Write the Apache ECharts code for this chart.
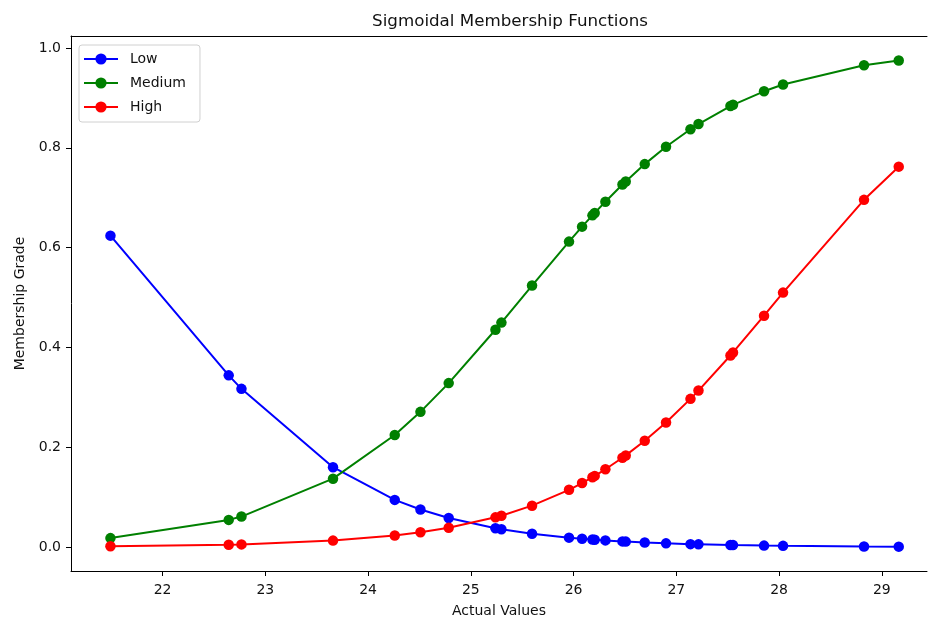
<!DOCTYPE html>
<html>
<head>
<meta charset="utf-8">
<script src="https://cdn.jsdelivr.net/npm/echarts@6/dist/echarts.min.js"></script>
<style>html,body{margin:0;padding:0;background:#fff}#c{width:928px;height:623px}</style>
</head>
<body>
<div id="c"></div>
<script>
const xValues = [21.493, 22.644, 22.768, 23.659, 24.260, 24.510, 24.785, 25.240, 25.298, 25.596, 25.956, 26.083, 26.184, 26.206, 26.310, 26.476, 26.508, 26.693, 26.900, 27.138, 27.216, 27.527, 27.552, 27.854, 28.039, 28.827, 29.165];
const lowValues = [0.624, 0.344, 0.317, 0.160, 0.0945, 0.0752, 0.0581, 0.0377, 0.0356, 0.0267, 0.0188, 0.0166, 0.0150, 0.0147, 0.0133, 0.0113, 0.0109, 0.0091, 0.0074, 0.0058, 0.0054, 0.0040, 0.0039, 0.0029, 0.0024, 0.0011, 0.0008];
const mediumValues = [0.0179, 0.0544, 0.0611, 0.137, 0.2244, 0.2709, 0.3285, 0.4354, 0.4497, 0.524, 0.612, 0.642, 0.6646, 0.6695, 0.692, 0.7263, 0.7326, 0.7673, 0.8022, 0.8372, 0.8476, 0.8836, 0.8861, 0.9132, 0.9269, 0.9653, 0.975];
const highValues = [0.0015, 0.0047, 0.0053, 0.0129, 0.0232, 0.0296, 0.0386, 0.0595, 0.0628, 0.0829, 0.1147, 0.1282, 0.1399, 0.1426, 0.1558, 0.1789, 0.1836, 0.213, 0.2497, 0.2969, 0.3135, 0.3839, 0.3899, 0.4636, 0.5098, 0.6957, 0.7622];
const xTicks = [22, 23, 24, 25, 26, 27, 28, 29];
const yTicks = [0, 0.2, 0.4, 0.6, 0.8, 1.0];
const seriesNames = ['Low', 'Medium', 'High'];
const seriesColors = ['#0000ff', '#008000', '#ff0000'];
const seriesValues = [lowValues, mediumValues, highValues];

const FONT = 'DejaVu Sans';
const X_MIN = 21.109, X_MAX = 29.44;
const chart = echarts.init(document.getElementById('c'), null, {renderer: 'canvas'});
const pairs = v => xValues.map((x, i) => [x, v[i]]);

chart.setOption({
  animation: false,
  backgroundColor: '#fff',
  textStyle: {fontFamily: FONT},
  title: {
    text: 'Sigmoidal Membership Functions',
    left: 505, top: 8, textAlign: 'center',
    textStyle: {fontFamily: FONT, fontSize: 16.7, fontWeight: 'normal', color: '#111'}
  },
  grid: {left: 71, right: 1, top: 36, bottom: 52, show: false, containLabel: false, outerBoundsMode: 'none'},
  legend: {
    orient: 'vertical', left: 79, top: 45,
    data: seriesNames,
    itemWidth: 34, itemHeight: 14, itemGap: 10,
    padding: [7, 14, 8, 4],
    borderColor: '#d0d0d0', borderWidth: 1, borderRadius: 3,
    backgroundColor: 'rgba(255,255,255,0.8)',
    textStyle: {fontFamily: FONT, fontSize: 14, color: '#111', padding: [0, 0, 0, 7]}
  },
  xAxis: [{
    type: 'value', min: X_MIN, max: X_MAX,
    name: 'Actual Values', nameLocation: 'middle', nameGap: 33,
    nameTextStyle: {fontFamily: FONT, fontSize: 14, color: '#111'},
    splitLine: {show: false},
    axisLine: {show: true, onZero: false, lineStyle: {color: '#000', width: 1}},
    axisTick: {show: true, length: 5, lineStyle: {color: '#000'}, customValues: xTicks},
    axisLabel: {fontFamily: FONT, fontSize: 14, color: '#111', margin: 12, customValues: xTicks, formatter: v => String(v)}
  }, {
    type: 'value', position: 'top', min: X_MIN, max: X_MAX,
    splitLine: {show: false},
    axisLine: {show: true, onZero: false, lineStyle: {color: '#000', width: 1}},
    axisTick: {show: false}, axisLabel: {show: false}
  }],
  yAxis: {
    type: 'value', min: -0.048, max: 1.024,
    name: 'Membership Grade', nameLocation: 'middle', nameGap: 44, nameRotate: 90,
    nameTextStyle: {fontFamily: FONT, fontSize: 14, color: '#111'},
    splitLine: {show: false},
    axisLine: {show: true, onZero: false, lineStyle: {color: '#000', width: 1}},
    axisTick: {show: true, length: 5, lineStyle: {color: '#000'}, customValues: yTicks},
    axisLabel: {fontFamily: FONT, fontSize: 14, color: '#111', margin: 10, customValues: yTicks, formatter: v => v.toFixed(1)}
  },
  series: seriesNames.map((n, k) => ({
    name: n, type: 'line', data: pairs(seriesValues[k]), xAxisIndex: 0,
    symbol: 'circle', symbolSize: 10.5, showSymbol: true,
    color: seriesColors[k],
    lineStyle: {width: 2, color: seriesColors[k]},
    itemStyle: {color: seriesColors[k]},
    z: 2 + k
  }))
});
</script>
</body>
</html>
